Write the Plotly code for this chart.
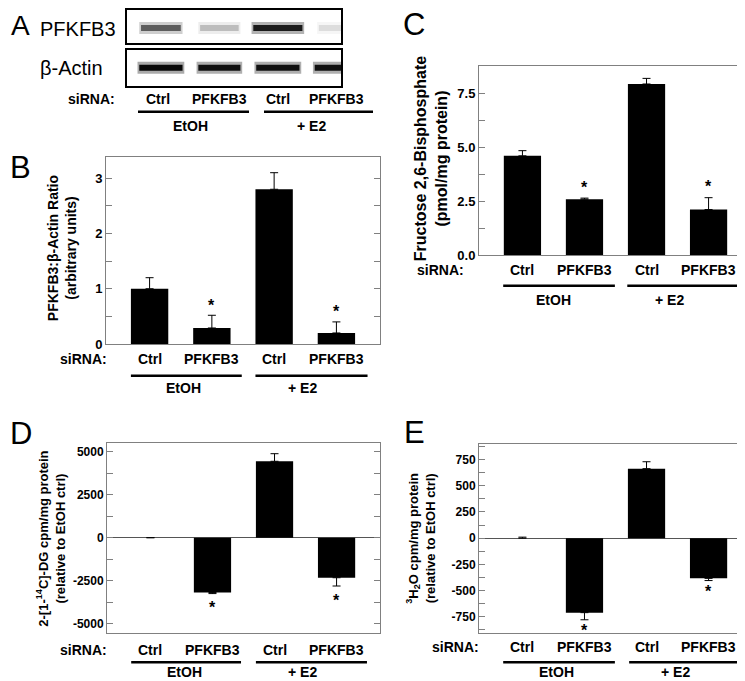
import plotly.graph_objects as go

W, H = 745, 681

# ---------------- data ----------------
categories = ["Ctrl", "PFKFB3", "Ctrl", "PFKFB3"]
groups = ["EtOH", "+ E2"]
blot_rows = ["PFKFB3", "β-Actin"]

# western blot band darkness (0 = none, 1 = black)
pfkfb3_band = [0.55, 0.2, 0.85, 0.1]
actin_band = [0.95, 0.9, 0.9, 0.9]

# B: PFKFB3:beta-actin ratio
ratio_vals = [1.0, 0.29, 2.8, 0.2]
ratio_err = [0.2, 0.23, 0.3, 0.2]
ratio_sig = [False, True, False, True]
ratio_ticks = [0, 1, 2, 3]
ratio_ticktext = ["0", "1", "2", "3"]

# C: Fructose 2,6-bisphosphate
f26_vals = [4.6, 2.59, 7.93, 2.11]
f26_err = [0.24, 0.05, 0.26, 0.55]
f26_sig = [False, True, False, True]
f26_ticks = [0, 2.5, 5.0, 7.5]
f26_ticktext = ["0.0", "2.5", "5.0", "7.5"]

# D: 2-[1-14C]-DG
dg_vals = [0, -3180, 4430, -2320]
dg_err = [0, 60, 440, 480]
dg_sig = [False, True, False, True]
dg_ticks = [-5000, -2500, 0, 2500, 5000]
dg_ticktext = ["-5000", "-2500", "0", "2500", "5000"]

# E: 3H2O
h2o_vals = [0, -710, 663, -383]
h2o_err = [10, 68, 66, 21]
h2o_sig = [False, True, False, True]
h2o_ticks = [-750, -500, -250, 0, 250, 500, 750]
h2o_ticktext = ["-750", "-500", "-250", "0", "250", "500", "750"]

FONT = "Arial, Liberation Sans, sans-serif"
GRAY = "#808080"


def px(x):
    return x / W


def py(y):
    return 1 - y / H


fig = go.Figure()
layout = dict(
    width=W, height=H, margin=dict(l=0, r=0, t=0, b=0),
    paper_bgcolor="white", plot_bgcolor="white", showlegend=False,
    font=dict(family=FONT, color="black"),
)
annotations = []
shapes = []

XR = [-0.7, 3.7]

panels = [
    dict(letter="B", n="", box=(98, 372, 151, 340), yr=[0, 3.38], vals=ratio_vals, err=ratio_err,
         sig=ratio_sig, ticks=ratio_ticks, ticktext=ratio_ticktext, minor=0.5, zero=False,
         title="PFKFB3:β-Actin Ratio<br>(arbitrary units)", tsize=14, tpos=(54, 243),
         lpos=(13, 161), sirna_x=75, lab_dy=(15, 32, 45), lines=[(-0.3, 1.48), (1.7, 3.5)],
         gx=[0.55, 2.45], star=[13, 11], tickfs=13),
    dict(letter="C", n="2", box=(471, 744, 59, 250), yr=[0, 8.75], vals=f26_vals, err=f26_err,
         sig=f26_sig, ticks=f26_ticks, ticktext=f26_ticktext, minor=1.25, zero=False,
         title="Fructose 2,6-Bisphosphate<br>(pmol/mg protein)", tsize=16, tpos=(423, 153),
         lpos=(406, 17), sirna_x=432, lab_dy=(15, 31, 45), lines=[(-0.31, 1.49), (1.69, 3.49)],
         gx=[0.5, 2.37], star=[14, 11], tickfs=13),
    dict(letter="D", n="3", box=(99, 372, 440, 632), yr=[-5500, 5500], vals=dg_vals, err=dg_err,
         sig=dg_sig, ticks=dg_ticks, ticktext=dg_ticktext, minor=1250, zero=True,
         title="2-[1-<sup>14</sup>C]-DG cpm/mg protein<br>(relative to EtOH ctrl)", tsize=13,
         tpos=(43, 537), lpos=(13, 431), sirna_x=75, lab_dy=(18, 30, 40),
         lines=[(-0.31, 1.46), (1.7, 3.49)], gx=[0.55, 2.45], star=[13, 11], tickfs=12),
    dict(letter="E", n="4", box=(471, 744, 441, 632), yr=[-900, 900], vals=h2o_vals, err=h2o_err,
         sig=h2o_sig, ticks=h2o_ticks, ticktext=h2o_ticktext, minor=125, zero=True,
         title="<sup>3</sup>H<sub>2</sub>O cpm/mg protein<br>(relative to EtOH ctrl)", tsize=13,
         tpos=(413, 537), lpos=(406, 430), sirna_x=447, lab_dy=(15, 30, 40),
         lines=[(-0.31, 1.49), (1.72, 3.52)], gx=[0.55, 2.46], star=[12, 8], tickfs=12),
]

xs = list(range(len(categories)))

for p in panels:
    x0, x1, y0, y1 = p["box"]
    xa = "x" + p["n"]
    ya = "y" + p["n"]
    up = [e if v >= 0 else 0 for v, e in zip(p["vals"], p["err"])]
    dn = [e if v < 0 else 0 for v, e in zip(p["vals"], p["err"])]
    fig.add_trace(go.Bar(
        x=xs, y=p["vals"], width=0.6, marker=dict(color="black", line=dict(width=0)),
        error_y=dict(type="data", symmetric=False, array=up, arrayminus=dn,
                     color="black", thickness=1, width=4),
        xaxis=xa, yaxis=ya, hoverinfo="skip"))
    layout["xaxis" + p["n"]] = dict(
        domain=[px(x0), px(x1)], range=XR, anchor=ya, showticklabels=False, ticks="",
        showline=True, mirror=True, linecolor=GRAY, linewidth=1, showgrid=False,
        zeroline=False, fixedrange=True)
    layout["yaxis" + p["n"]] = dict(
        domain=[py(y1), py(y0)], range=p["yr"], anchor=xa, tickmode="array",
        tickvals=p["ticks"], ticktext=p["ticktext"], ticks="inside", ticklen=6,
        tickcolor=GRAY, showline=True, mirror="ticks", linecolor=GRAY, linewidth=1,
        showgrid=False, zeroline=p["zero"], zerolinecolor="#555555", zerolinewidth=1,
        tickfont=dict(family=FONT, size=p["tickfs"], color="black", weight="bold"),
        minor=dict(tickmode="linear", tick0=0, dtick=p["minor"], ticks="inside",
                   ticklen=6, tickcolor=GRAY, showgrid=False),
        fixedrange=True)

    def dx(xd, x0=x0, x1=x1):
        return px(x0 + (xd - XR[0]) / (XR[1] - XR[0]) * (x1 - x0))

    # significance stars
    for i, (v, e, s) in enumerate(zip(p["vals"], p["err"], p["sig"])):
        if not s:
            continue
        if v >= 0:
            annotations.append(dict(x=i, y=v + e, xref=xa, yref=ya, text="<b>*</b>",
                                    showarrow=False, yanchor="middle", borderpad=0,
                                    yshift=p["star"][0] - 3, font=dict(size=16)))
        else:
            annotations.append(dict(x=i, y=v - e, xref=xa, yref=ya, text="<b>*</b>",
                                    showarrow=False, yanchor="middle", borderpad=0,
                                    yshift=-p["star"][1] - 3, font=dict(size=16)))

    # y title
    annotations.append(dict(x=px(p["tpos"][0]), y=py(p["tpos"][1]), xref="paper", yref="paper",
                            text="<b>" + p["title"] + "</b>", textangle=-90, showarrow=False,
                            xanchor="center", yanchor="middle",
                            font=dict(size=p["tsize"])))
    # panel letter
    annotations.append(dict(x=px(p["lpos"][0]), y=py(p["lpos"][1]), xref="paper", yref="paper",
                            text=p["letter"], showarrow=False, xanchor="center",
                            yanchor="middle", font=dict(size=31)))
    # category labels
    d1, d2, d3 = p["lab_dy"]
    annotations.append(dict(x=px(p["sirna_x"]), y=py(y1 + d1), xref="paper", yref="paper",
                            text="<b>siRNA:</b>", showarrow=False, xanchor="center",
                            yanchor="middle", font=dict(size=14)))
    for i, c in enumerate(categories):
        annotations.append(dict(x=i, y=py(y1 + d1), xref=xa, yref="paper",
                                text="<b>" + c + "</b>", showarrow=False,
                                yanchor="middle", font=dict(size=14)))
    for (a, b), g, gxv in zip(p["lines"], groups, p["gx"]):
        shapes.append(dict(type="line", xref="paper", yref="paper", x0=dx(a), x1=dx(b),
                           y0=py(y1 + d2), y1=py(y1 + d2),
                           line=dict(color="black", width=2.5)))
        annotations.append(dict(x=gxv, y=py(y1 + d3), xref=xa, yref="paper",
                                text="<b>" + g + "</b>", showarrow=False,
                                yanchor="middle", font=dict(size=14)))

# ---------------- Panel A: western blot ----------------
blot_boxes = [(119, 333, 2, 35), (119, 333, 42, 79)]
blot_data = [pfkfb3_band, actin_band]
blot_y = [-0.1, 0.0]
blot_half = [[0.34, 0.33, 0.42, 0.3], [0.37, 0.36, 0.37, 0.37]]
BXR = [-0.58, 3.08]
for k, ((x0, x1, y0, y1), band, yb, hw) in enumerate(zip(blot_boxes, blot_data, blot_y, blot_half)):
    n = str(5 + k)
    xa, ya = "x" + n, "y" + n
    for i, d in enumerate(band):
        fig.add_trace(go.Scatter(x=[i - hw[i] - 0.03, i + hw[i] + 0.03], y=[yb, yb], mode="lines",
                                 line=dict(color="rgba(0,0,0,%.3f)" % (d * 0.35), width=12),
                                 xaxis=xa, yaxis=ya, hoverinfo="skip"))
        fig.add_trace(go.Scatter(x=[i - hw[i], i + hw[i]], y=[yb, yb], mode="lines",
                                 line=dict(color="rgba(0,0,0,%.3f)" % d, width=6),
                                 xaxis=xa, yaxis=ya, hoverinfo="skip"))
    layout["xaxis" + n] = dict(domain=[px(x0), px(x1)], range=BXR, anchor=ya, visible=True,
                               showticklabels=False, ticks="", showline=True, mirror=True,
                               linecolor="black", linewidth=2, showgrid=False, zeroline=False,
                               fixedrange=True)
    layout["yaxis" + n] = dict(domain=[py(y1), py(y0)], range=[-1, 1], anchor=xa,
                               showticklabels=False, ticks="", showline=True, mirror=True,
                               linecolor="black", linewidth=2, showgrid=False, zeroline=False,
                               fixedrange=True)

annotations.append(dict(x=px(12), y=py(18), xref="paper", yref="paper", text="A",
                        showarrow=False, xanchor="center", yanchor="middle", font=dict(size=28)))
annotations.append(dict(x=px(30), y=py(21), xref="paper", yref="paper", text=blot_rows[0],
                        showarrow=False, xanchor="left", yanchor="middle", font=dict(size=20)))
annotations.append(dict(x=px(30), y=py(61), xref="paper", yref="paper", text=blot_rows[1],
                        showarrow=False, xanchor="left", yanchor="middle", font=dict(size=20)))
annotations.append(dict(x=px(83), y=py(92), xref="paper", yref="paper", text="<b>siRNA:</b>",
                        showarrow=False, xanchor="center", yanchor="middle", font=dict(size=14)))
for i, c in enumerate(categories):
    annotations.append(dict(x=i - 0.05 if i == 0 else i, y=py(92), xref="x5", yref="paper",
                            text="<b>" + c + "</b>", showarrow=False, yanchor="middle",
                            font=dict(size=14)))
for (a, b), g, gc in zip([(130, 241), (256, 365)], groups, [182, 303]):
    shapes.append(dict(type="line", xref="paper", yref="paper", x0=px(a), x1=px(b),
                       y0=py(105), y1=py(105), line=dict(color="black", width=2.5)))
    annotations.append(dict(x=px(gc), y=py(119), xref="paper", yref="paper",
                            text="<b>" + g + "</b>", showarrow=False, xanchor="center",
                            yanchor="middle", font=dict(size=14)))

layout["annotations"] = annotations
layout["shapes"] = shapes
fig.update_layout(**layout)
fig.write_html("out.html")
